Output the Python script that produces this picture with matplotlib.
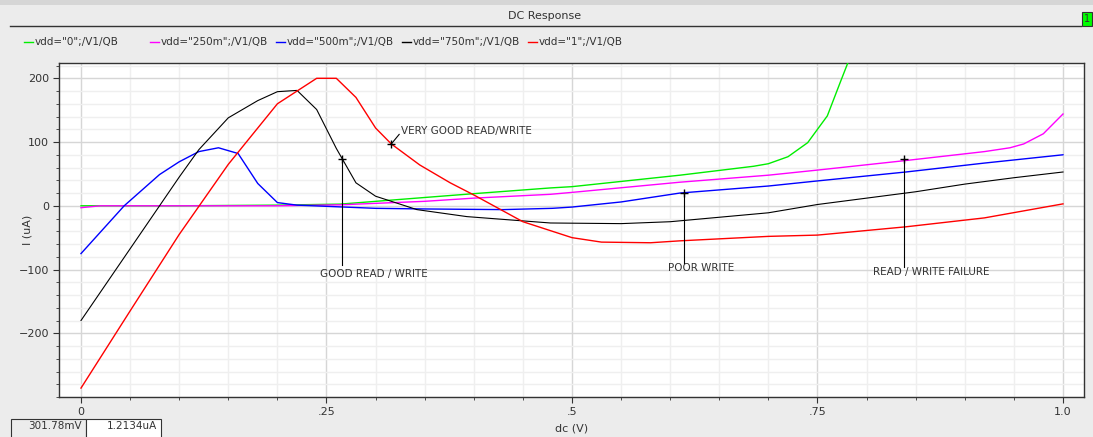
import matplotlib
matplotlib.use("Agg")
import matplotlib.pyplot as plt
from matplotlib.patches import Rectangle
from matplotlib.lines import Line2D
import numpy as np

# curves (dc sweep in V, current in uA)
x_vdd0 = [0, 0.1, 0.2, 0.264, 0.35, 0.4, 0.478, 0.5, 0.61, 0.685, 0.70, 0.72, 0.74, 0.76, 0.773, 0.79]
i_vdd0 = [0, 0, 1, 2.6, 13, 19, 28, 30, 48, 62, 66, 77, 99, 141, 193, 260]

x_vdd250 = [0, 0.02, 0.1, 0.2, 0.264, 0.35, 0.4, 0.478, 0.5, 0.61, 0.7, 0.75, 0.84, 0.92, 0.946, 0.96, 0.98, 1.0]
i_vdd250 = [-3, 0, 0, 0, 1.5, 7, 12, 18, 21, 37, 48, 56, 71, 85, 91, 97, 113, 144]

x_vdd500 = [0, 0.044, 0.08, 0.1, 0.12, 0.14, 0.16, 0.18, 0.2, 0.22, 0.3, 0.35, 0.43, 0.48, 0.5, 0.55, 0.61, 0.7, 0.75, 0.84, 0.92, 1.0]
i_vdd500 = [-75, 0, 49, 69, 85, 91, 82, 35, 5, 1, -4, -5, -6, -4, -2, 6, 20, 31, 39, 53, 67, 80]

x_vdd750 = [0, 0.04, 0.08, 0.1, 0.12, 0.15, 0.18, 0.2, 0.22, 0.24, 0.26, 0.28, 0.3, 0.32, 0.342,
            0.393, 0.444, 0.478, 0.55, 0.6, 0.65, 0.7, 0.75, 0.8, 0.85, 0.9, 0.95, 1.0]
i_vdd750 = [-180, -90, 0, 45, 88, 138, 165, 179, 181, 151, 90, 36, 15, 5, -6,
            -17, -23, -27, -28, -25, -18, -11, 2, 12, 22, 34, 44, 53]

x_vdd1 = [0, 0.05, 0.1, 0.15, 0.2, 0.24, 0.26, 0.28, 0.3, 0.316, 0.345, 0.376, 0.4, 0.45, 0.5,
          0.53, 0.58, 0.61, 0.7, 0.75, 0.84, 0.92, 1.0]
i_vdd1 = [-286, -165, -45, 65, 160, 200, 200, 170, 122, 97, 64, 36, 17, -25, -50,
          -57, -58, -55, -48, -46, -33, -19, 3]

legend_labels = ['vdd="0";/V1/QB', 'vdd="250m";/V1/QB', 'vdd="500m";/V1/QB',
                 'vdd="750m";/V1/QB', 'vdd="1";/V1/QB']
colors = ["#00ee00", "#ff00ff", "#0000ff", "#000000", "#ff0000"]

W, H = 1093, 437
fig = plt.figure(figsize=(W / 100, H / 100), dpi=100, facecolor="#ececec")


def fx(px):
    return px / W


def fy(py):
    return 1 - py / H


ax = fig.add_axes([fx(59), fy(397), fx(1084) - fx(59), fy(63) - fy(397)])
ax.set_facecolor("white")

series = [(x_vdd0, i_vdd0), (x_vdd250, i_vdd250), (x_vdd500, i_vdd500),
          (x_vdd750, i_vdd750), (x_vdd1, i_vdd1)]
for (xs, ys), c in zip(series, colors):
    lw = 0.8 if c == "#000000" else 1.0
    ax.plot(xs, ys, color=c, lw=lw, zorder=3)

ax.set_xlim(-0.0224, 1.0214)
ax.set_ylim(-300, 224)

ax.set_xticks([0, 0.25, 0.5, 0.75, 1.0])
ax.set_xticklabels(["0", ".25", ".5", ".75", "1.0"])
ax.set_xticks(np.arange(0, 1.001, 0.05), minor=True)
ax.set_yticks([-200, -100, 0, 100, 200])
ax.set_yticks(np.arange(-300, 221, 20), minor=True)
ax.grid(which="major", color="#d6d6d6", lw=1.0, zorder=0)
ax.grid(which="minor", color="#efefef", lw=1.0, zorder=0)
ax.tick_params(which="major", direction="out", length=4, width=0.8, labelsize=8,
               labelcolor="#333333", color="#333333", pad=3)
ax.tick_params(which="minor", direction="out", length=2, width=0.6, color="#333333")
for s in ax.spines.values():
    s.set_color("#333333")
    s.set_linewidth(1.0)

ax.set_ylabel("I (uA)", fontsize=8, color="#333333")
ax.yaxis.set_label_coords(-0.026, 0.5)
ax.set_xlabel("dc (V)", fontsize=8, color="#333333")
ax.xaxis.set_label_coords(0.5, -0.078)

# annotations
ax.plot([0.316], [97], marker="+", color="black", ms=6, zorder=4)
ax.plot([0.316, 0.324], [97, 112], color="black", lw=0.8, zorder=4)
ax.text(0.326, 118, "VERY GOOD READ/WRITE", fontsize=7.5, color="#333333", va="center", ha="left")

ax.plot([0.266], [74], marker="+", color="black", ms=6, zorder=4)
ax.plot([0.266, 0.266], [74, -93], color="black", lw=0.8, zorder=4)
ax.text(0.298, -107, "GOOD READ / WRITE", fontsize=7.5, color="#333333", va="center", ha="center")

ax.plot([0.614], [20], marker="+", color="black", ms=6, zorder=4)
ax.plot([0.614, 0.614], [20, -89], color="black", lw=0.8, zorder=4)
ax.text(0.598, -97, "POOR WRITE", fontsize=7.5, color="#333333", va="center", ha="left")

ax.plot([0.838], [74], marker="+", color="black", ms=6, zorder=4)
ax.plot([0.838, 0.838], [74, -96], color="black", lw=0.8, zorder=4)
ax.text(0.807, -104, "READ / WRITE FAILURE", fontsize=7.5, color="#333333", va="center", ha="left")

# window chrome
fig.add_artist(Rectangle((0, fy(5)), 1, 5 / H, transform=fig.transFigure,
                         facecolor="#d6d6d6", edgecolor="none"))
fig.add_artist(Line2D([fx(10), fx(1081)], [fy(26), fy(26)], transform=fig.transFigure,
                      color="#333333", lw=1.0))
fig.text(fx(545), fy(16), "DC Response", fontsize=8, color="#333333", ha="center", va="center")
fig.add_artist(Rectangle((fx(1082), fy(26)), fx(10), 14 / H, transform=fig.transFigure,
                         facecolor="#00ff00", edgecolor="#333333", lw=0.8))
fig.text(fx(1087), fy(19), "1", fontsize=7, color="#333333", ha="center", va="center")

# legend row, fixed slot width like the viewer
for k, (lab, c) in enumerate(zip(legend_labels, colors)):
    x0 = 24 + 126 * k
    fig.add_artist(Line2D([fx(x0), fx(x0 + 9)], [fy(42), fy(42)], transform=fig.transFigure,
                          color=c, lw=1.0))
    fig.text(fx(x0 + 11), fy(42), lab, fontsize=7.5, color="#333333", ha="left", va="center")

# cursor readout
fig.add_artist(Rectangle((fx(11), fy(440)), fx(75), 21 / H, transform=fig.transFigure,
                         facecolor="#ececec", edgecolor="#333333", lw=0.8))
fig.add_artist(Rectangle((fx(86), fy(440)), fx(75), 21 / H, transform=fig.transFigure,
                         facecolor="white", edgecolor="#333333", lw=0.8))
fig.text(fx(82), fy(426), "301.78mV", fontsize=7.5, color="#333333", ha="right", va="center")
fig.text(fx(157), fy(426), "1.2134uA", fontsize=7.5, color="#333333", ha="right", va="center")

fig.savefig("out.png", dpi=100, facecolor=fig.get_facecolor())
